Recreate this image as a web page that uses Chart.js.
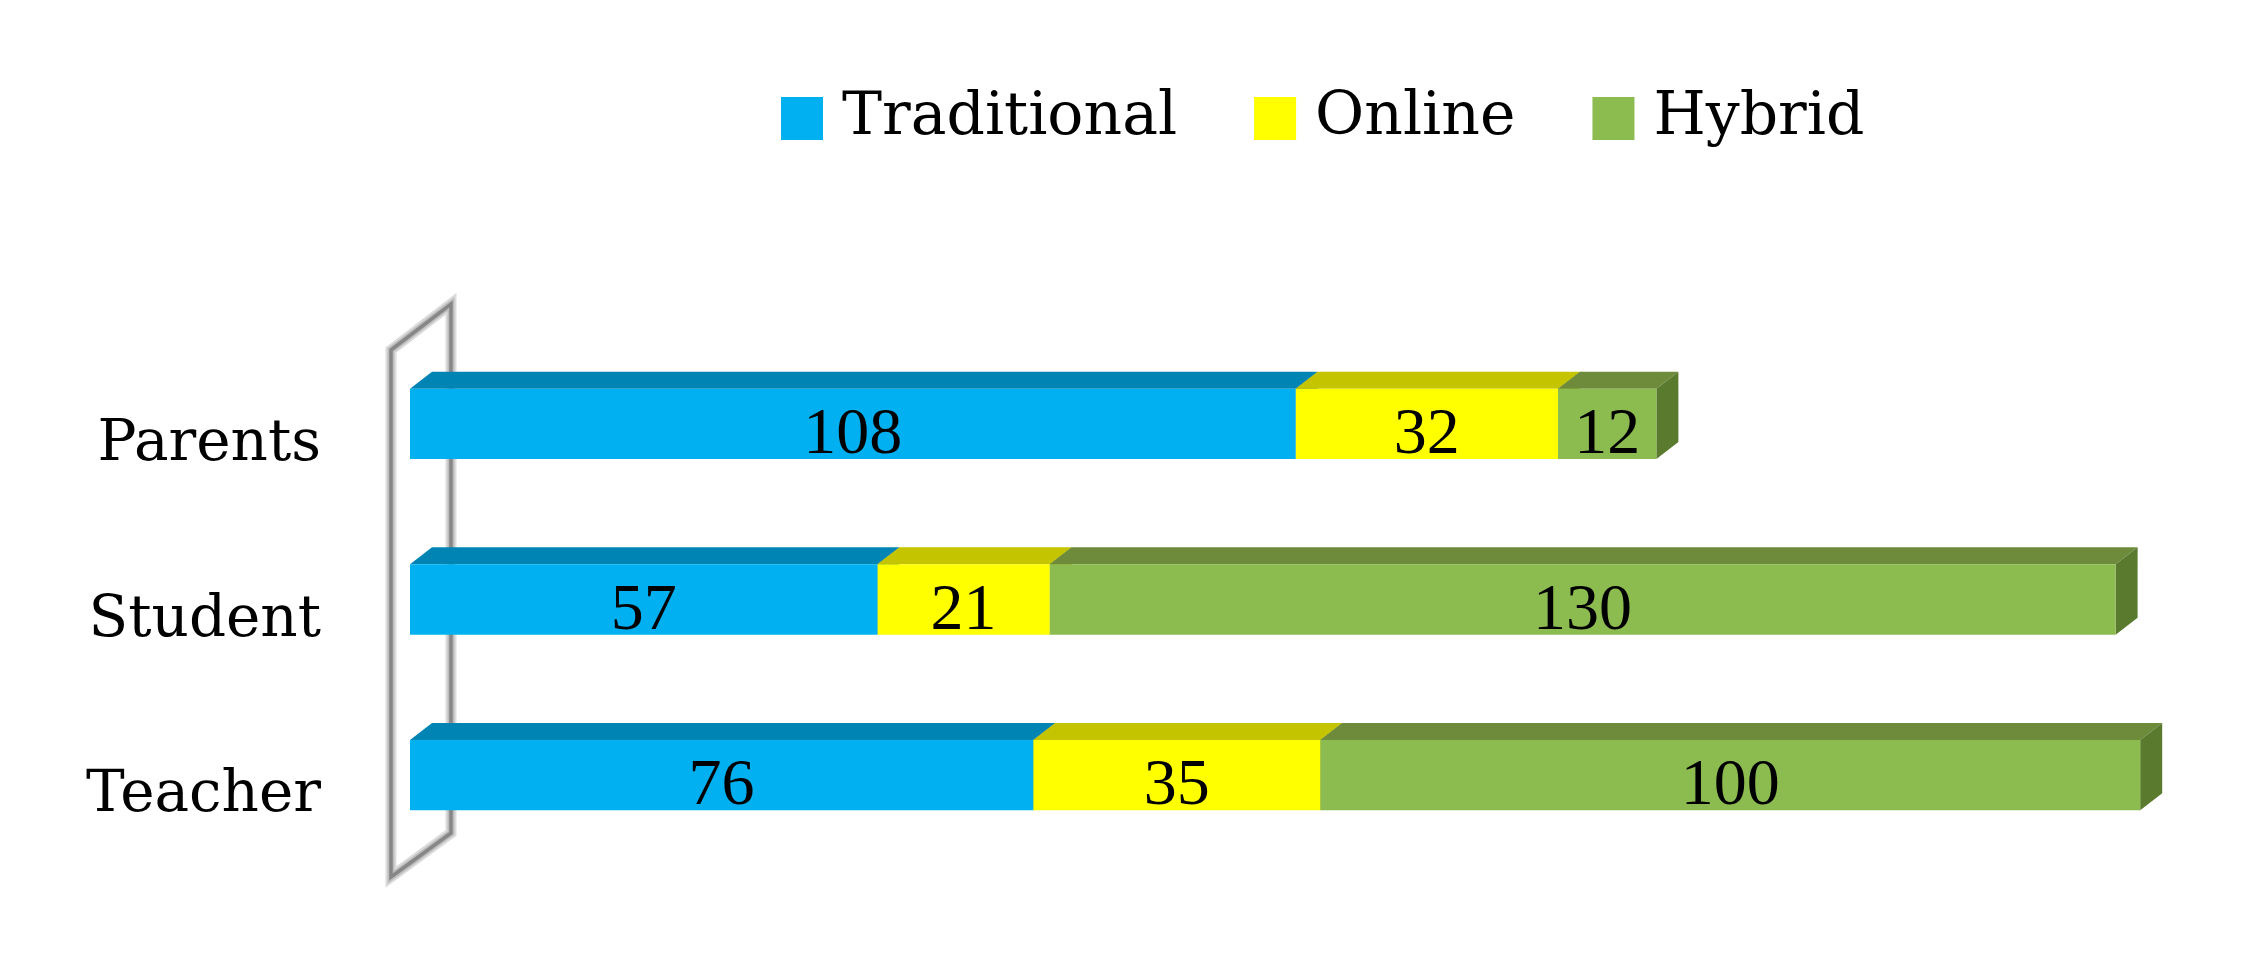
<!DOCTYPE html>
<html><head><meta charset="utf-8">
<script src="https://cdn.jsdelivr.net/npm/chart.js@4.4.0/dist/chart.umd.min.js"></script>
<style>html,body{margin:0;padding:0;background:#fff;}</style>
</head><body>
<canvas id="c" width="2243" height="960"></canvas>
<script>
const categories = ['Parents', 'Student', 'Teacher'];
const traditional = [108, 57, 76];
const online = [32, 21, 35];
const hybrid = [12, 130, 100];
const seriesNames = ['Traditional', 'Online', 'Hybrid'];
const frontColors = ['#00B0F0', '#FFFF00', '#8CBB4F'];
const topColors = ['#0084B4', '#C4C400', '#6E8B3C'];
const sideColors = ['#00739C', '#A8A800', '#5A7A2E'];
const DX = 22, DY = -17;

const threeD = {
  id: 'threeD',
  beforeDatasetsDraw(chart) {
    const ctx = chart.ctx, ca = chart.chartArea;
    // back wall
    const fx = ca.left - 19, bx = ca.left + 41;
    const pts = [[fx, ca.top + 14], [bx, ca.top - 32], [bx, ca.bottom - 30], [fx, ca.bottom + 14]];
    ctx.save();
    ctx.lineJoin = 'miter';
    [[11, '#dcdcdc'], [7, '#bdbdbd'], [3.5, '#878787']].forEach(([w, c]) => {
      ctx.beginPath();
      ctx.moveTo(pts[0][0], pts[0][1]);
      for (let i = 1; i < 4; i++) ctx.lineTo(pts[i][0], pts[i][1]);
      ctx.closePath();
      ctx.lineWidth = w; ctx.strokeStyle = c; ctx.stroke();
    });
    // top and side faces
    chart.data.datasets.forEach((ds, di) => {
      const meta = chart.getDatasetMeta(di);
      meta.data.forEach(el => {
        const top = el.y - el.height / 2, bot = el.y + el.height / 2;
        const l = Math.min(el.x, el.base), r = Math.max(el.x, el.base);
        ctx.fillStyle = topColors[di];
        ctx.beginPath();
        ctx.moveTo(l, top); ctx.lineTo(r, top); ctx.lineTo(r + DX, top + DY); ctx.lineTo(l + DX, top + DY);
        ctx.closePath(); ctx.fill();
        ctx.fillStyle = sideColors[di];
        ctx.beginPath();
        ctx.moveTo(r, top); ctx.lineTo(r + DX, top + DY); ctx.lineTo(r + DX, bot + DY); ctx.lineTo(r, bot);
        ctx.closePath(); ctx.fill();
      });
    });
    ctx.restore();
  },
  afterDatasetsDraw(chart) {
    const ctx = chart.ctx;
    ctx.save();
    ctx.font = '66px "Liberation Serif"';
    ctx.fillStyle = '#000';
    ctx.textAlign = 'center';
    ctx.textBaseline = 'alphabetic';
    chart.data.datasets.forEach((ds, di) => {
      chart.getDatasetMeta(di).data.forEach((el, i) => {
        ctx.fillText(String(ds.data[i]), (el.x + el.base) / 2, el.y + 29);
      });
    });
    ctx.restore();
  },
  afterDraw(chart) {
    const ctx = chart.ctx;
    ctx.save();
    ctx.font = '60px "DejaVu Serif"';
    ctx.textBaseline = 'alphabetic';
    ctx.textAlign = 'left';
    let x = 781;
    chart.data.datasets.forEach((ds, di) => {
      ctx.fillStyle = frontColors[di];
      ctx.fillRect(x, 97, 42, 43);
      x += 42 + 19;
      ctx.fillStyle = '#000';
      ctx.fillText(ds.label, x, 134);
      x += ctx.measureText(ds.label).width + 77;
    });
    ctx.restore();
  }
};

new Chart(document.getElementById('c'), {
  type: 'bar',
  data: {
    labels: categories,
    datasets: [
      { label: seriesNames[0], data: traditional, backgroundColor: frontColors[0] },
      { label: seriesNames[1], data: online, backgroundColor: frontColors[1] },
      { label: seriesNames[2], data: hybrid, backgroundColor: frontColors[2] }
    ]
  },
  options: {
    indexAxis: 'y',
    responsive: false,
    animation: false,
    categoryPercentage: 0.4,
    barPercentage: 1,
    layout: { padding: { top: 336, bottom: 97, left: 0, right: 29 } },
    plugins: { legend: { display: false }, tooltip: { enabled: false } },
    scales: {
      x: { stacked: true, min: 0, max: 220, display: false },
      y: {
        stacked: true,
        grid: { display: false, drawTicks: false },
        border: { display: false },
        ticks: { font: { family: 'DejaVu Serif', size: 58 }, color: '#000', padding: 89, labelOffset: 21 },
        afterFit(s) { s.width = 410; s.paddingTop = 0; s.paddingBottom = 0; }
      }
    }
  },
  plugins: [threeD]
});
</script>
</body></html>
